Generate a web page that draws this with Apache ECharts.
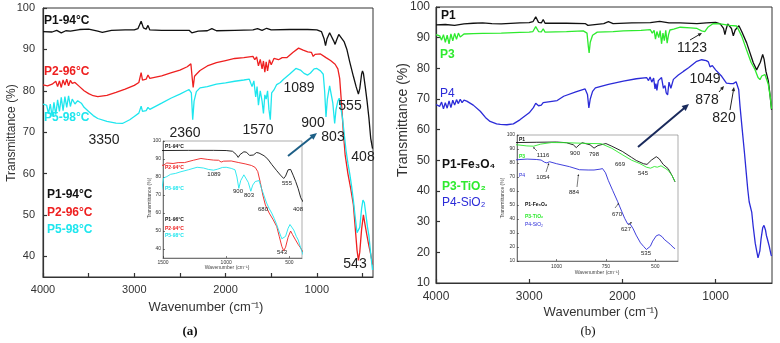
<!DOCTYPE html>
<html>
<head>
<meta charset="utf-8">
<script src="https://cdn.jsdelivr.net/npm/echarts@6/dist/echarts.min.js"></script>
<style>
  html, body { margin: 0; padding: 0; background: #fff; }
  #chart { width: 780px; height: 343px; }
</style>
</head>
<body>
<div id="chart"></div>
<script>
// FTIR spectra, [wavenumber, transmittance %]

// panel (a)
var p1a = [[4000, 94.3], [3900, 94.2], [3850, 94.6], [3800, 94.0], [3750, 94.5], [3700, 94.4], [3600, 94.8], [3500, 94.9], [3400, 94.4], [3350, 94.1], [3250, 94.6], [3100, 94.7], [3000, 94.7], [2960, 95.0], [2925, 96.8], [2900, 95.2], [2870, 94.9], [2850, 95.8], [2830, 94.7], [2700, 94.6], [2500, 94.6], [2400, 94.6], [2370, 94.0], [2350, 94.3], [2300, 94.4], [2200, 94.5], [2150, 95.0], [2100, 94.5], [1900, 94.6], [1700, 94.7], [1650, 95.0], [1600, 94.6], [1550, 95.1], [1500, 94.7], [1300, 94.8], [1100, 94.8], [1000, 94.7], [950, 94.3], [920, 92.5], [905, 90.9], [890, 92.5], [860, 94.0], [840, 93.8], [815, 92.0], [800, 91.2], [785, 92.2], [760, 93.6], [740, 93.3], [700, 91.8], [670, 89.9], [640, 87.0], [600, 83.5], [570, 81.0], [545, 79.2], [530, 80.5], [510, 84.0], [500, 84.8], [490, 84.2], [470, 81.0], [450, 77.5], [430, 73.5], [410, 68.5], [390, 66.0]];
var p2a = [[4000, 81.4], [3950, 81.2], [3900, 81.6], [3860, 82.3], [3840, 81.0], [3820, 82.4], [3800, 80.8], [3780, 82.6], [3760, 81.4], [3740, 82.8], [3720, 81.2], [3700, 82.5], [3680, 81.8], [3650, 82.0], [3600, 81.0], [3550, 80.0], [3500, 79.3], [3450, 78.8], [3400, 78.6], [3300, 78.9], [3200, 79.6], [3100, 80.4], [3000, 81.3], [2950, 82.0], [2925, 84.4], [2910, 82.6], [2870, 82.8], [2850, 83.8], [2830, 83.0], [2700, 83.6], [2600, 84.3], [2500, 85.0], [2420, 85.8], [2380, 86.5], [2365, 83.0], [2355, 80.8], [2340, 83.5], [2320, 84.0], [2280, 84.9], [2200, 86.0], [2100, 86.8], [2000, 87.3], [1900, 87.8], [1800, 88.0], [1700, 88.3], [1680, 87.5], [1660, 88.2], [1640, 86.0], [1620, 87.6], [1600, 85.3], [1585, 87.2], [1570, 84.5], [1555, 87.0], [1540, 84.8], [1520, 87.5], [1500, 86.3], [1470, 87.8], [1420, 87.5], [1380, 88.0], [1330, 88.0], [1260, 89.3], [1200, 90.3], [1150, 89.8], [1100, 89.4], [1060, 89.3], [1040, 88.3], [1020, 88.8], [960, 88.9], [900, 88.0], [850, 87.3], [800, 86.4], [770, 85.3], [750, 83.0], [730, 77.0], [710, 70.0], [690, 64.5], [660, 60.0], [630, 56.5], [600, 52.5], [580, 47.0], [560, 41.5], [545, 39.0], [530, 41.0], [510, 46.5], [490, 50.0], [475, 48.0], [455, 45.5], [430, 42.5], [410, 40.5], [390, 38.0]];
var p5a = [[4000, 76.8], [3960, 76.5], [3940, 74.5], [3920, 76.8], [3900, 73.8], [3880, 77.2], [3860, 74.2], [3840, 77.8], [3820, 75.0], [3800, 78.4], [3780, 75.2], [3760, 78.6], [3740, 76.0], [3720, 78.8], [3700, 76.2], [3680, 78.0], [3650, 76.8], [3620, 77.6], [3580, 77.0], [3550, 76.0], [3500, 75.0], [3450, 74.0], [3400, 73.3], [3300, 72.6], [3200, 72.2], [3130, 72.1], [3050, 73.0], [3000, 73.8], [2950, 74.6], [2925, 76.3], [2910, 75.0], [2870, 75.2], [2850, 76.0], [2830, 75.5], [2700, 77.0], [2600, 78.2], [2500, 79.2], [2400, 80.3], [2375, 79.5], [2360, 73.0], [2345, 77.5], [2320, 79.8], [2280, 80.7], [2200, 81.0], [2100, 81.6], [2000, 81.9], [1900, 82.3], [1800, 82.6], [1740, 82.8], [1710, 81.0], [1690, 82.4], [1670, 78.5], [1655, 81.0], [1640, 76.5], [1620, 80.0], [1600, 77.5], [1585, 74.5], [1570, 79.0], [1555, 78.0], [1540, 80.0], [1525, 75.5], [1510, 73.0], [1495, 79.5], [1470, 80.2], [1440, 81.5], [1400, 82.0], [1365, 82.8], [1300, 84.0], [1230, 85.4], [1180, 85.0], [1140, 84.2], [1100, 83.8], [1070, 84.3], [1030, 85.3], [1000, 85.4], [960, 84.8], [930, 84.0], [915, 80.0], [900, 73.7], [885, 78.0], [860, 81.2], [845, 80.8], [825, 77.0], [805, 72.1], [790, 75.5], [770, 77.5], [755, 78.2], [740, 78.0], [720, 73.5], [700, 69.5], [680, 65.5], [660, 62.5], [640, 60.0], [620, 57.0], [600, 53.5], [580, 49.5], [560, 45.7], [545, 45.3], [530, 47.0], [510, 51.5], [495, 53.6], [480, 53.0], [465, 50.5], [445, 47.0], [430, 45.0], [410, 40.5], [390, 36.7]];

// panel (b)
var p1b = [[4000, 94.2], [3900, 94.3], [3800, 94.0], [3700, 94.5], [3600, 94.7], [3500, 94.8], [3400, 94.6], [3300, 94.5], [3100, 94.8], [3000, 94.9], [2960, 95.2], [2930, 96.8], [2900, 95.0], [2870, 94.8], [2850, 95.9], [2830, 94.7], [2600, 94.7], [2400, 94.6], [2370, 94.0], [2350, 94.4], [2200, 94.6], [2150, 95.2], [2100, 94.6], [1900, 94.8], [1700, 94.9], [1600, 95.3], [1500, 94.8], [1380, 94.8], [1200, 94.6], [1100, 94.8], [1000, 95.0], [950, 94.5], [915, 93.0], [900, 91.0], [885, 93.0], [870, 94.5], [830, 93.0], [810, 90.6], [790, 92.5], [750, 93.9], [720, 92.0], [667, 88.3], [620, 84.0], [596, 81.8], [560, 79.5], [542, 79.0], [520, 82.0], [495, 84.5], [480, 83.0], [460, 79.0], [435, 76.0], [415, 71.0], [400, 66.5]];
var p3b = [[4000, 91.0], [3960, 90.6], [3940, 89.2], [3920, 91.0], [3900, 88.5], [3880, 90.8], [3860, 88.0], [3840, 91.2], [3820, 89.0], [3800, 91.4], [3780, 89.5], [3760, 91.5], [3740, 90.2], [3700, 91.2], [3600, 91.3], [3500, 91.4], [3300, 91.5], [3100, 91.7], [3000, 91.8], [2960, 92.0], [2930, 93.6], [2900, 92.0], [2870, 91.9], [2850, 92.9], [2830, 91.8], [2600, 92.0], [2420, 92.2], [2380, 91.5], [2365, 87.0], [2357, 85.0], [2345, 88.5], [2320, 90.8], [2270, 91.8], [2100, 92.0], [1990, 92.2], [1800, 92.4], [1700, 92.6], [1680, 91.5], [1660, 92.4], [1645, 89.5], [1630, 92.0], [1610, 90.0], [1595, 92.3], [1580, 88.0], [1565, 91.5], [1550, 89.0], [1535, 92.4], [1520, 88.2], [1505, 91.0], [1490, 92.5], [1450, 92.8], [1380, 93.4], [1270, 93.2], [1200, 93.0], [1150, 92.2], [1116, 92.0], [1080, 93.5], [1025, 94.6], [950, 94.5], [850, 94.0], [774, 93.8], [720, 90.5], [669, 86.1], [620, 82.0], [578, 79.6], [545, 77.0], [524, 76.3], [505, 77.5], [490, 77.0], [471, 78.0], [450, 76.2], [435, 74.8], [415, 71.0], [400, 66.8]];
var p4b = [[4000, 68.2], [3960, 67.6], [3940, 69.0], [3920, 66.8], [3900, 68.8], [3880, 67.0], [3860, 69.4], [3840, 67.2], [3820, 69.6], [3800, 68.0], [3780, 69.8], [3760, 68.5], [3740, 69.9], [3720, 68.8], [3700, 69.6], [3670, 69.3], [3600, 68.0], [3525, 66.0], [3470, 64.0], [3420, 62.7], [3350, 61.9], [3310, 61.7], [3240, 61.6], [3170, 61.9], [3100, 63.2], [3000, 65.5], [2955, 67.2], [2930, 68.6], [2900, 67.8], [2870, 68.0], [2850, 68.8], [2830, 68.2], [2700, 69.5], [2630, 70.9], [2500, 72.3], [2400, 73.3], [2375, 71.5], [2360, 67.1], [2345, 70.0], [2320, 72.5], [2290, 73.6], [2150, 74.8], [1990, 75.8], [1850, 76.6], [1740, 77.0], [1720, 76.0], [1703, 77.2], [1685, 75.5], [1665, 76.8], [1650, 73.3], [1640, 75.0], [1630, 72.8], [1615, 76.0], [1595, 75.5], [1580, 77.0], [1560, 73.5], [1543, 74.4], [1530, 72.0], [1515, 71.3], [1500, 75.5], [1480, 73.5], [1453, 76.4], [1400, 77.8], [1346, 79.0], [1290, 80.2], [1203, 82.3], [1149, 82.8], [1100, 82.5], [1078, 82.1], [1060, 80.5], [1049, 80.1], [1035, 80.9], [1000, 79.5], [935, 77.4], [884, 75.2], [840, 75.0], [810, 75.0], [780, 75.6], [767, 76.0], [752, 73.0], [738, 67.6], [716, 60.5], [690, 52.3], [670, 45.5], [655, 40.5], [640, 36.5], [627, 36.4], [612, 33.0], [597, 28.5], [575, 23.0], [559, 20.4], [545, 18.2], [538, 17.8], [525, 20.5], [513, 24.2], [495, 28.0], [481, 28.8], [465, 27.3], [455, 25.5], [446, 24.5], [425, 22.0], [406, 19.3], [400, 18.8]];

// axis ticks / labels
var xTicksA = [4000, 3500, 3000, 2500, 2000, 1500, 1000, 500];
var xLabelsMain = [4000, 3000, 2000, 1000];
var yLabelsA = [40, 50, 60, 70, 80, 90, 100];
var yLabelsB = [10, 20, 30, 40, 50, 60, 70, 80, 90, 100];
var xLabelsInsetA = [1500, 1000, 500];
var xLabelsInsetB = [1000, 750, 500];

var FONT = '"Liberation Sans", Arial, sans-serif';
var C_BLACK = '#111111', C_RED = '#ee2020', C_CYAN = '#1ee6ee', C_GREEN = '#2eea2e', C_BLUE = '#2b2bd8';

function plain(v) { return String(v); }

function xAx(grid, min, max, ticks, labels, fs, margin, tickLen, lw) {
    return {
        type: 'value', gridIndex: grid, inverse: true, min: min, max: max,
        axisLine: { show: true, onZero: false, lineStyle: { color: '#333', width: lw } },
        axisTick: { show: true, inside: true, length: tickLen, customValues: ticks, lineStyle: { color: '#333', width: lw } },
        axisLabel: { customValues: labels, formatter: plain, fontSize: fs, color: '#333', margin: margin, fontFamily: FONT },
        splitLine: { show: false }
    };
}
function yAx(grid, min, max, labels, fs, margin, tickLen, lw) {
    return {
        type: 'value', gridIndex: grid, min: min, max: max,
        axisLine: { show: true, onZero: false, lineStyle: { color: '#333', width: lw } },
        axisTick: { show: true, inside: true, length: tickLen, customValues: labels, lineStyle: { color: '#333', width: lw } },
        axisLabel: { customValues: labels, formatter: plain, fontSize: fs, color: '#333', margin: margin, fontFamily: FONT },
        splitLine: { show: false }
    };
}
function line(data, color, idx, w) {
    return {
        type: 'line', data: data, xAxisIndex: idx, yAxisIndex: idx,
        showSymbol: false, symbol: 'none', clip: true, animation: false,
        lineStyle: { color: color, width: w }
    };
}
function txt(x, y, s, o) {
    o = o || {};
    var al = o.align || 'center';
    return {
        type: 'text', x: x, y: y, z: 100, rotation: o.rot || 0,
        style: {
            text: s, fill: o.color || '#222',
            font: (o.bold ? 'bold ' : '') + (o.size || 14) + 'px ' + (o.family || FONT),
            textAlign: al, align: al, textVerticalAlign: 'middle', verticalAlign: 'middle'
        }
    };
}
function arrow(x1, y1, x2, y2, color, lw, hs) {
    var a = Math.atan2(y2 - y1, x2 - x1), c = Math.cos(a), s = Math.sin(a);
    return {
        type: 'group', z: 100, children: [
            { type: 'line', z: 100, shape: { x1: x1, y1: y1, x2: x2 - c * hs * 0.7, y2: y2 - s * hs * 0.7 }, style: { stroke: color, lineWidth: lw } },
            { type: 'polygon', z: 100, shape: { points: [[x2, y2], [x2 - hs * c + hs * 0.45 * s, y2 - hs * s - hs * 0.45 * c], [x2 - hs * c - hs * 0.45 * s, y2 - hs * s + hs * 0.45 * c]] }, style: { fill: color } }
        ]
    };
}

var chart = echarts.init(document.getElementById('chart'));

var graphics = [
    // ---- panel (a)
    txt(44, 21, 'P1-94°C', { bold: true, size: 12, color: C_BLACK, align: 'left' }),
    txt(44, 72, 'P2-96°C', { bold: true, size: 12, color: C_RED, align: 'left' }),
    txt(44, 118, 'P5-98°C', { bold: true, size: 12, color: C_CYAN, align: 'left' }),
    txt(104, 140, '3350'), txt(185, 133, '2360'), txt(258, 130, '1570'),
    txt(299, 88, '1089'), txt(313, 123, '900'), txt(333, 137, '803'),
    txt(350, 106, '555'), txt(363, 157, '408'), txt(355, 264, '543'),
    txt(47, 195, 'P1-94°C', { bold: true, size: 12, color: C_BLACK, align: 'left' }),
    txt(47, 213, 'P2-96°C', { bold: true, size: 12, color: C_RED, align: 'left' }),
    txt(47, 230, 'P5-98°C', { bold: true, size: 12, color: C_CYAN, align: 'left' }),
    arrow(288, 156, 317, 133, '#1d5f86', 2, 7),
    txt(12, 133, 'Transmittance (%)', { size: 12, color: '#333', rot: Math.PI / 2 }),
    txt(206, 307, 'Wavenumber (cm⁻¹)', { size: 13, color: '#333' }),
    txt(190, 332, '(a)', { size: 13, bold: true, family: '"Liberation Serif", serif', color: '#111' }),
    // inset (a)
    txt(165, 147, 'P1-94°C', { size: 5, bold: true, color: C_BLACK, align: 'left' }),
    txt(165, 168, 'P2-94°C', { size: 5, bold: true, color: C_RED, align: 'left' }),
    txt(165, 189, 'P5-98°C', { size: 5, bold: true, color: C_CYAN, align: 'left' }),
    txt(165, 220, 'P1-96°C', { size: 5, bold: true, color: C_BLACK, align: 'left' }),
    txt(165, 229, 'P2-94°C', { size: 5, bold: true, color: C_RED, align: 'left' }),
    txt(165, 236, 'P5-98°C', { size: 5, bold: true, color: C_CYAN, align: 'left' }),
    txt(214, 174, '1089', { size: 6 }), txt(238, 191, '900', { size: 6 }), txt(249, 195, '803', { size: 6 }),
    txt(287, 183, '555', { size: 6 }), txt(298, 209, '408', { size: 6 }), txt(263, 209, '680', { size: 6 }),
    txt(282, 252, '543', { size: 6 }),
    txt(150, 198, 'Transmittance (%)', { size: 5, color: '#444', rot: Math.PI / 2 }),
    txt(227, 268, 'Wavenumber (cm⁻¹)', { size: 5, color: '#444' }),

    // ---- panel (b)
    txt(441, 16, 'P1', { bold: true, size: 12, color: C_BLACK, align: 'left' }),
    txt(440, 55, 'P3', { bold: true, size: 12, color: C_GREEN, align: 'left' }),
    txt(440, 94, 'P4', { size: 12, color: C_BLUE, align: 'left' }),
    txt(692, 48, '1123'), arrow(690, 40, 702, 33, '#222', 1, 4),
    txt(705, 79, '1049'), txt(707, 100, '878'), arrow(719, 92, 724, 86, '#222', 1, 4),
    txt(724, 118, '820'), arrow(730, 110, 734, 87, '#222', 1, 4),
    arrow(638, 147, 689, 104, '#1a2a5c', 2, 7),
    txt(442, 165, 'P1-Fe₃O₄', { bold: true, size: 12, color: C_BLACK, align: 'left' }),
    txt(442, 187, 'P3-TiO₂', { bold: true, size: 12, color: C_GREEN, align: 'left' }),
    txt(442, 203, 'P4-SiO₂', { size: 12, color: C_BLUE, align: 'left' }),
    txt(403, 120, 'Transmittance (%)', { size: 14, color: '#333', rot: Math.PI / 2 }),
    txt(601, 312, 'Wavenumber (cm⁻¹)', { size: 13, color: '#333' }),
    txt(588, 332, '(b)', { size: 13, family: '"Liberation Serif", serif', color: '#111' }),
    // inset (b)
    txt(519, 140, 'P1', { size: 5, bold: true, color: C_BLACK, align: 'left' }),
    txt(519, 157, 'P3', { size: 5, bold: true, color: C_GREEN, align: 'left' }),
    txt(519, 176, 'P4', { size: 5, color: C_BLUE, align: 'left' }),
    txt(543, 155, '1116', { size: 6 }), arrow(537, 151, 533, 147, '#222', 0.6, 2),
    txt(575, 153, '900', { size: 6 }), txt(594, 154, '798', { size: 6 }),
    txt(620, 164, '669', { size: 6 }), txt(643, 173, '545', { size: 6 }),
    txt(543, 177, '1054', { size: 6 }), arrow(546, 172, 549, 163, '#222', 0.6, 2),
    txt(574, 192, '884', { size: 6 }), arrow(577, 187, 578.5, 174, '#222', 0.6, 2),
    txt(617, 214, '670', { size: 6 }), arrow(615, 208, 619, 203, '#222', 0.6, 2),
    txt(626, 229, '627', { size: 6 }), arrow(628, 225, 632, 222, '#222', 0.6, 2),
    txt(646, 253, '535', { size: 6 }),
    txt(525, 205, 'P1-Fe₃O₄', { size: 5, bold: true, color: C_BLACK, align: 'left' }),
    txt(525, 217, 'P3-TiO₂', { size: 5, bold: true, color: C_GREEN, align: 'left' }),
    txt(525, 225, 'P4-SiO₂', { size: 5, color: C_BLUE, align: 'left' }),
    txt(503, 198, 'Transmittance (%)', { size: 5, color: '#444', rot: Math.PI / 2 }),
    txt(597, 273, 'Wavenumber (cm⁻¹)', { size: 5, color: '#444' })
];

var option = {
    backgroundColor: '#ffffff',
    animation: false,
    grid: [
        { left: 43, top: 8, width: 330, height: 269, show: true, borderColor: '#333', borderWidth: 1, backgroundColor: 'transparent' },
        { left: 163, top: 141, width: 139, height: 117, show: true, borderColor: '#777', borderWidth: 0.6, backgroundColor: '#fff' },
        { left: 436, top: 7, width: 336, height: 276, show: true, borderColor: '#333', borderWidth: 1, backgroundColor: 'transparent' },
        { left: 517, top: 135, width: 161, height: 126, show: true, borderColor: '#777', borderWidth: 0.6, backgroundColor: '#fff' }
    ],
    xAxis: [
        xAx(0, 385, 4000, xTicksA, xLabelsMain, 11, 7, 4, 1.2),
        xAx(1, 400, 1500, xLabelsInsetA, xLabelsInsetA, 5, 2, 2, 0.6),
        xAx(2, 395, 4000, xLabelsMain, xLabelsMain, 12, 8, 4, 1.2),
        xAx(3, 385, 1200, xLabelsInsetB, xLabelsInsetB, 5, 3, 2, 0.6)
    ],
    yAxis: [
        yAx(0, 35, 100, yLabelsA, 11, 8, 4, 1.2),
        yAx(1, 35, 100, yLabelsA, 5, 2, 2, 0.6),
        yAx(2, 10, 100, yLabelsB, 12, 6, 4, 1.2),
        yAx(3, 10, 100, yLabelsB, 5, 2, 2, 0.6)
    ],
    series: [
        line(p1a, C_BLACK, 0, 1.3), line(p2a, C_RED, 0, 1.3), line(p5a, C_CYAN, 0, 1.3),
        line(p1a, C_BLACK, 1, 0.9), line(p2a, C_RED, 1, 0.9), line(p5a, C_CYAN, 1, 0.9),
        line(p1b, C_BLACK, 2, 1.3), line(p3b, C_GREEN, 2, 1.3), line(p4b, C_BLUE, 2, 1.3),
        line(p1b, C_BLACK, 3, 0.9), line(p3b, C_GREEN, 3, 0.9), line(p4b, C_BLUE, 3, 0.9)
    ],
    graphic: graphics
};

chart.setOption(option);
</script>
</body>
</html>
